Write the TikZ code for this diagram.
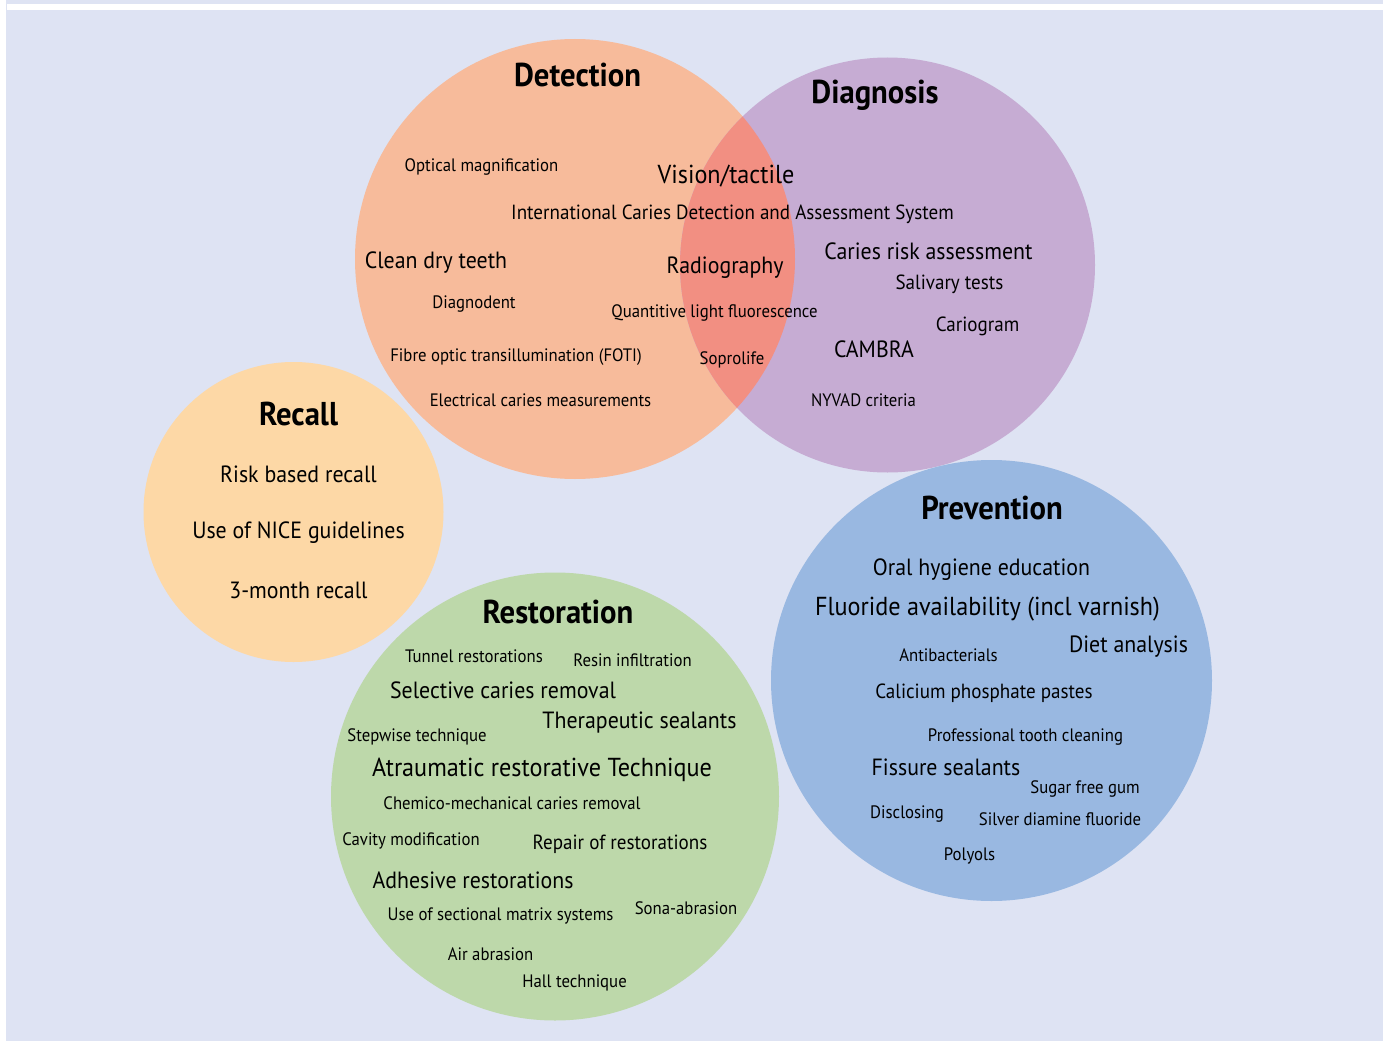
\documentclass[tikz,border=0pt]{standalone}
\usepackage{fontspec}
\setmainfont[FakeStretch=0.93]{PT Sans}
\definecolor{bgcol}{HTML}{DEE3F3}
\definecolor{detcol}{HTML}{F7BB9B}
\definecolor{diacol}{HTML}{C6ACD3}
\definecolor{lenscol}{HTML}{F28F82}
\definecolor{reccol}{HTML}{FDD8A6}
\definecolor{precol}{HTML}{99B8E1}
\definecolor{rescol}{HTML}{BDD8AA}
\tikzset{
  lbl/.style={inner sep=0pt, anchor=mid, text=black},
  ttl/.style={lbl, yshift=-9pt, font=\fontsize{33}{36}\selectfont\bfseries},
  big/.style={lbl, yshift=-7pt, font=\fontsize{26}{29}\selectfont},
  med/.style={lbl, yshift=-6pt, font=\fontsize{23.5}{26}\selectfont},
  msm/.style={lbl, yshift=-4.5pt, font=\fontsize{20.5}{23}\selectfont},
  sml/.style={lbl, yshift=-3.5pt, font=\fontsize{18}{20}\selectfont},
}
\begin{document}
\begin{tikzpicture}[x=1pt,y=-1pt]
\useasboundingbox (0,0) rectangle (1387,1041);
\fill[white] (0,0) rectangle (1387,1041);
\fill[bgcol] (6,0) rectangle (1383,1041);
\fill[white] (7,4) rectangle (1383,10.5);
% circles
\fill[detcol] (575,259) circle (220pt);
\fill[diacol] (887.5,265) circle (207.5pt);
\begin{scope}
  \clip (575,259) circle (220pt);
  \fill[lenscol] (887.5,265) circle (207.5pt);
\end{scope}
\fill[reccol] (293.5,512) circle (150pt);
\fill[precol] (991.5,680.5) circle (220.5pt);
\fill[rescol] (555,796.5) circle (224pt);
% Detection
\node[ttl] (tdet) at (577.5,75) {Detection};
\node[sml] (optmag) at (481.5,165) {Optical magnification};
\node[big] (vision) at (726,174) {Vision/tactile};
\node[msm] (icdas) at (732.5,212) {International Caries Detection and Assessment System};
\node[med] (clean) at (436,260) {Clean dry teeth};
\node[med] (radio) at (725,265) {Radiography};
\node[sml] (diagnodent) at (474,302) {Diagnodent};
\node[sml] (qlf) at (714.5,311) {Quantitive light fluorescence};
\node[sml] (foti) at (516,355) {Fibre optic transillumination (FOTI)};
\node[sml] (soprolife) at (732,358) {Soprolife};
\node[sml] (ecm) at (540.5,400) {Electrical caries measurements};
% Diagnosis
\node[ttl] (tdia) at (875,92) {Diagnosis};
\node[med] (cra) at (928.5,251) {Caries risk assessment};
\node[msm] (saliv) at (949.5,282) {Salivary tests};
\node[msm] (cariogram) at (977.5,324) {Cariogram};
\node[med] (cambra) at (874,349) {CAMBRA};
\node[sml] (nyvad) at (863.5,400) {NYVAD criteria};
% Recall
\node[ttl] (trec) at (298.5,414) {Recall};
\node[med] (rbr) at (298.5,474) {Risk based recall};
\node[med] (nice) at (298.5,530) {Use of NICE guidelines};
\node[med] (threem) at (298.5,590) {3-month recall};
% Restoration
\node[ttl] (tres) at (558,612) {Restoration};
\node[sml] (tunnel) at (474,656) {Tunnel restorations};
\node[sml] (resin) at (632.5,660) {Resin infiltration};
\node[med] (selective) at (503,690) {Selective caries removal};
\node[med] (therap) at (639.5,720) {Therapeutic sealants};
\node[sml] (stepwise) at (417,735) {Stepwise technique};
\node[big] (art) at (542,767) {Atraumatic restorative Technique};
\node[sml] (chemico) at (512,803) {Chemico-mechanical caries removal};
\node[sml] (cavity) at (411,839) {Cavity modification};
\node[msm] (repair) at (620,842) {Repair of restorations};
\node[med] (adhesive) at (473,880) {Adhesive restorations};
\node[sml] (matrix) at (500.5,914) {Use of sectional matrix systems};
\node[sml] (sona) at (686,908) {Sona-abrasion};
\node[sml] (air) at (490.5,954) {Air abrasion};
\node[sml] (hall) at (574.5,981) {Hall technique};
% Prevention
\node[ttl] (tpre) at (992,508) {Prevention};
\node[med] (ohe) at (981.5,567) {Oral hygiene education};
\node[big] (fluor) at (987.5,606) {Fluoride availability (incl varnish)};
\node[med] (diet) at (1128.5,644) {Diet analysis};
\node[sml] (antib) at (948.5,655) {Antibacterials};
\node[msm] (calic) at (984,691) {Calicium phosphate pastes};
\node[sml] (prof) at (1025.5,735) {Professional tooth cleaning};
\node[med] (fissure) at (946,767) {Fissure sealants};
\node[sml] (sugar) at (1085,787) {Sugar free gum};
\node[sml] (disclosing) at (907,812) {Disclosing};
\node[sml] (silver) at (1060,819) {Silver diamine fluoride};
\node[sml] (polyols) at (969.5,854) {Polyols};
\end{tikzpicture}
\end{document}
